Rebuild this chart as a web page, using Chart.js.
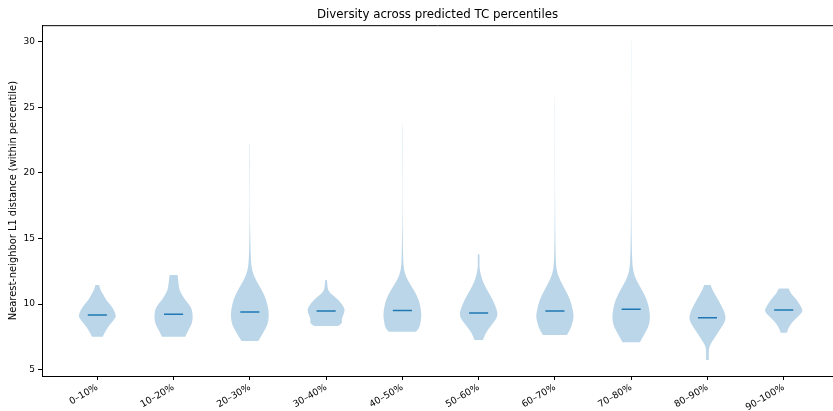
<!DOCTYPE html>
<html>
<head>
<meta charset="utf-8">
<script src="https://cdn.jsdelivr.net/npm/chart.js@4.4.1/dist/chart.umd.min.js"></script>
<style>
  html, body { margin: 0; padding: 0; background: #fff; }
  #wrap { width: 833px; height: 411px; }
</style>
</head>
<body>
<div id="wrap"><canvas id="chart"></canvas></div>
<script>
// percentile buckets along x
const categories = ["0–10%", "10–20%", "20–30%", "30–40%", "40–50%", "50–60%", "60–70%", "70–80%", "80–90%", "90–100%"];
const positions = [1, 2, 3, 4, 5, 6, 7, 8, 9, 10];
const yTicks = [5, 10, 15, 20, 25, 30];

// median nearest-neighbour distance per bucket
const medians = [9.17, 9.22, 9.40, 9.47, 9.52, 9.32, 9.47, 9.60, 8.96, 9.55];

// violin profile per bucket: distance levels (bottom -> top) and relative density there
const levels = [
  [7.52, 8.03, 8.41, 8.79, 9.09, 9.55, 9.93, 10.31, 10.69, 11.07, 11.45],
  [7.52, 8.03, 8.41, 8.79, 9.17, 9.55, 9.93, 10.31, 10.69, 11.07, 11.45, 11.84, 12.22],
  [7.19, 7.52, 7.9, 8.41, 9.0, 9.55, 10.31, 11.07, 11.84, 12.6, 13.5, 14.5, 16, 18, 19.5, 21, 22.2],
  [8.33, 8.45, 8.6, 8.79, 8.92, 9.17, 9.55, 9.93, 10.31, 10.69, 10.94, 11.2, 11.84],
  [7.9, 8.1, 8.41, 9.0, 9.55, 10.31, 11.07, 11.84, 12.6, 13.5, 14.5, 16, 18, 20, 21.5, 23.0, 23.7],
  [7.26, 7.77, 8.28, 8.79, 9.17, 9.55, 10.31, 11.07, 11.84, 12.6, 13.0, 13.4, 13.8],
  [7.65, 8.03, 8.41, 9.0, 9.55, 10.31, 11.07, 11.84, 12.6, 14, 16, 18, 20, 22, 24, 25.9],
  [7.09, 7.65, 8.16, 8.79, 9.55, 10.31, 11.07, 11.84, 12.6, 14, 16, 18, 20, 22, 24, 25, 27, 29, 30.1],
  [5.74, 6.3, 6.6, 6.88, 7.39, 8.03, 8.6, 9.0, 9.55, 10.31, 11.07, 11.45],
  [7.82, 8.16, 8.54, 8.92, 9.3, 9.55, 9.8, 10.31, 10.81, 11.2],
];
const density = [
  [0.28, 0.46, 0.64, 0.87, 1.0, 0.87, 0.70, 0.46, 0.33, 0.16, 0.10],
  [0.61, 0.78, 0.93, 1.0, 1.0, 0.97, 0.84, 0.61, 0.45, 0.31, 0.27, 0.24, 0.21],
  [0.44, 0.58, 0.73, 0.93, 1.0, 0.98, 0.87, 0.63, 0.31, 0.10, 0.05, 0.03, 0.012, 0.005, 0.01, 0.012, 0.008],
  [0.62, 0.75, 0.84, 0.82, 0.83, 0.9, 1.0, 0.86, 0.65, 0.34, 0.15, 0.08, 0.045],
  [0.71, 0.86, 0.93, 1.0, 0.98, 0.87, 0.61, 0.26, 0.07, 0.04, 0.025, 0.012, 0.006, 0.006, 0.01, 0.01, 0.005],
  [0.22, 0.35, 0.61, 0.89, 1.0, 0.96, 0.75, 0.44, 0.18, 0.06, 0.04, 0.05, 0.04],
  [0.63, 0.79, 0.89, 1.0, 0.94, 0.81, 0.55, 0.26, 0.07, 0.03, 0.015, 0.008, 0.006, 0.006, 0.008, 0.004],
  [0.46, 0.67, 0.87, 1.0, 0.96, 0.83, 0.57, 0.26, 0.08, 0.035, 0.015, 0.008, 0.005, 0.005, 0.006, 0.004, 0.004, 0.006, 0.004],
  [0.07, 0.07, 0.08, 0.13, 0.35, 0.64, 0.9, 0.97, 0.85, 0.57, 0.26, 0.17],
  [0.16, 0.24, 0.40, 0.65, 0.93, 1.0, 0.91, 0.70, 0.37, 0.26],
];

const FONT = "'DejaVu Sans', sans-serif";
const HALF_WIDTH = 0.25;   // widest point of each violin, in x units
const MEDIAN_HALF = 0.125;
const BODY_COLOR = "rgba(31,119,180,0.3)";
const LINE_COLOR = "#1f77b4";

function tracePath(ctx, pts, first) {
  if (first) ctx.moveTo(pts[0][0], pts[0][1]);
  else ctx.lineTo(pts[0][0], pts[0][1]);
  for (let k = 1; k < pts.length - 1; k++) {
    const mx = (pts[k][0] + pts[k + 1][0]) / 2;
    const my = (pts[k][1] + pts[k + 1][1]) / 2;
    ctx.quadraticCurveTo(pts[k][0], pts[k][1], mx, my);
  }
  const last = pts[pts.length - 1];
  ctx.lineTo(last[0], last[1]);
}

const violinPlugin = {
  id: "violins",
  beforeDatasetsDraw(chart) {
    const { ctx, chartArea, scales: { x, y } } = chart;
    ctx.save();
    ctx.beginPath();
    ctx.rect(chartArea.left, chartArea.top, chartArea.right - chartArea.left, chartArea.bottom - chartArea.top);
    ctx.clip();
    positions.forEach((pos, i) => {
      const ys = levels[i];
      const ws = density[i];
      const right = ys.map((v, k) => [x.getPixelForValue(pos + ws[k] * HALF_WIDTH), y.getPixelForValue(v)]);
      const left = ys.map((v, k) => [x.getPixelForValue(pos - ws[k] * HALF_WIDTH), y.getPixelForValue(v)]).reverse();
      ctx.beginPath();
      tracePath(ctx, right, true);
      tracePath(ctx, left, false);
      ctx.closePath();
      ctx.fillStyle = BODY_COLOR;
      ctx.fill();
    });
    ctx.strokeStyle = LINE_COLOR;
    ctx.lineWidth = 1.5;
    positions.forEach((pos, i) => {
      const py = y.getPixelForValue(medians[i]);
      ctx.beginPath();
      ctx.moveTo(x.getPixelForValue(pos - MEDIAN_HALF), py);
      ctx.lineTo(x.getPixelForValue(pos + MEDIAN_HALF), py);
      ctx.stroke();
    });
    ctx.restore();
    // top spine
    ctx.save();
    ctx.strokeStyle = "#000";
    ctx.lineWidth = 1;
    ctx.beginPath();
    ctx.moveTo(chartArea.left, chartArea.top + 0.5);
    ctx.lineTo(chartArea.right, chartArea.top + 0.5);
    ctx.stroke();
    ctx.restore();
  },
};

new Chart(document.getElementById("chart"), {
  type: "scatter",
  data: { datasets: [] },
  plugins: [violinPlugin],
  options: {
    responsive: true,
    maintainAspectRatio: false,
    animation: false,
    layout: { padding: { left: 0, right: 0, top: 0, bottom: 0 } },
    plugins: {
      legend: { display: false },
      tooltip: { enabled: false },
      title: {
        display: true,
        fullSize: false,
        text: "Diversity across predicted TC percentiles",
        color: "#000",
        font: { family: FONT, size: 11.8, weight: "normal" },
        padding: { top: 8, bottom: 3 },
      },
    },
    scales: {
      x: {
        type: "linear",
        min: 0.275,
        max: 10.646,
        afterBuildTicks: (scale) => { scale.ticks = positions.map((v) => ({ value: v })); },
        afterFit: (scale) => { scale.height = 35; },
        ticks: {
          autoSkip: false,
          minRotation: 30,
          maxRotation: 30,
          padding: 2,
          color: "#000",
          font: { family: FONT, size: 9.3 },
          callback: (v) => categories[positions.indexOf(v)],
        },
        grid: { drawOnChartArea: false, drawTicks: true, tickLength: 4, color: "#000" },
        border: { display: true, color: "#000", width: 1 },
      },
      y: {
        type: "linear",
        min: 4.52,
        max: 31.27,
        afterBuildTicks: (scale) => { scale.ticks = yTicks.map((v) => ({ value: v })); },
        afterFit: (scale) => { scale.width = 42; },
        ticks: {
          padding: 3,
          color: "#000",
          font: { family: FONT, size: 9 },
        },
        title: {
          display: true,
          text: "Nearest-neighbor L1 distance (within percentile)",
          color: "#000",
          font: { family: FONT, size: 9.9 },
          padding: { top: 7, bottom: 0 },
        },
        grid: { drawOnChartArea: false, drawTicks: true, tickLength: 4, color: "#000" },
        border: { display: true, color: "#000", width: 1 },
      },
    },
  },
});
</script>
</body>
</html>
